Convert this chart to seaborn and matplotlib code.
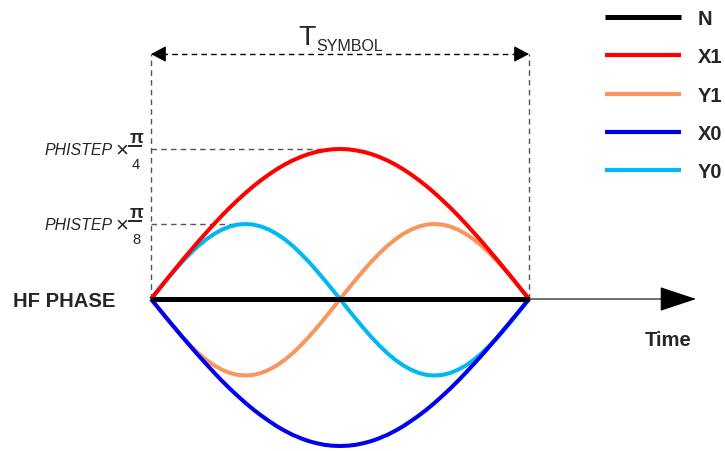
import numpy as np
import pandas as pd
import matplotlib
matplotlib.use("Agg")
import matplotlib.pyplot as plt
import seaborn as sns
from matplotlib.lines import Line2D

# Time across one symbol, and phase in units of PHISTEP x pi/4
t = np.linspace(0.0, 1.0, 49)
phase_n = [0.0] * 49
phase_x1 = [0, .065, .131, .195, .259, .321, .383, .442, .500, .556, .609, .659,
            .707, .752, .793, .831, .866, .897, .924, .947, .966, .981, .991, .998,
            1.000,
            .998, .991, .981, .966, .947, .924, .897, .866, .831, .793, .752, .707,
            .659, .609, .556, .500, .442, .383, .321, .259, .195, .131, .065, 0]
phase_x0 = [0, -.064, -.128, -.191, -.254, -.315, -.375, -.433, -.490, -.545, -.597, -.646,
            -.693, -.737, -.777, -.814, -.849, -.879, -.906, -.928, -.947, -.961, -.972, -.978,
            -.980,
            -.978, -.972, -.961, -.947, -.928, -.906, -.879, -.849, -.814, -.777, -.737, -.693,
            -.646, -.597, -.545, -.490, -.433, -.375, -.315, -.254, -.191, -.128, -.064, 0]
phase_y0 = [0, .065, .129, .191, .250, .304, .354, .397, .433, .462, .483, .496,
            .500, .496, .483, .462, .433, .397, .354, .304, .250, .191, .129, .065,
            0,
            -.067, -.132, -.195, -.255, -.310, -.361, -.405, -.442, -.471, -.493, -.506,
            -.510, -.506, -.493, -.471, -.442, -.405, -.361, -.310, -.255, -.195, -.132, -.067, 0]
phase_y1 = [0, -.067, -.132, -.195, -.255, -.310, -.361, -.405, -.442, -.471, -.493, -.506,
            -.510, -.506, -.493, -.471, -.442, -.405, -.361, -.310, -.255, -.195, -.132, -.067,
            0,
            .065, .129, .191, .250, .304, .354, .397, .433, .462, .483, .496,
            .500, .496, .483, .462, .433, .397, .354, .304, .250, .191, .129, .065, 0]

signals = ["N", "X1", "Y1", "X0", "Y0"]
colors = {"N": "#000000", "X1": "#FF0000", "Y1": "#F8965F",
          "X0": "#0000EE", "Y0": "#00B8F2"}

series = {"N": phase_n, "X1": phase_x1, "Y1": phase_y1, "X0": phase_x0, "Y0": phase_y0}
df = pd.concat([pd.DataFrame({"t": t, "phase": v, "signal": k}) for k, v in series.items()],
               ignore_index=True)

sns.set_theme(style="white")
plt.rcParams["font.family"] = ["Liberation Sans", "DejaVu Sans"]
plt.rcParams["lines.solid_capstyle"] = "butt"

fig = plt.figure(figsize=(7.25, 4.52), dpi=100)
ax = fig.add_axes([0, 0, 1, 1])

dash_kw = dict(color="#555555", lw=1.0, ls=(0, (4, 3)), zorder=1)

# symbol boundaries and phase reference levels
ax.plot([0, 0], [0, 1.633], **dash_kw)
ax.plot([1, 1], [0, 1.633], **dash_kw)
ax.plot([0, 0.5], [1.0, 1.0], **dash_kw)
ax.plot([0, 0.25], [0.5, 0.5], **dash_kw)

# symbol duration arrow
ax.plot([0.03, 0.97], [1.633, 1.633], color="black", lw=1.0, ls=(0, (4, 3)), zorder=1)
for x0, x1 in [(0.04, 0.0), (0.96, 1.0)]:
    ax.annotate("", xy=(x1, 1.633), xytext=(x0, 1.633),
                arrowprops=dict(arrowstyle="-|>,head_length=9.4,head_width=5",
                                mutation_scale=1, color="black", lw=0.8,
                                shrinkA=0, shrinkB=0))
ax.text(0.389, 1.70, "T", fontsize=20.5, ha="left", va="baseline")
ax.text(0.4365, 1.66, "SYMBOL", fontsize=11.5, ha="left", va="baseline")

# time axis
ax.annotate("", xy=(1.442, 0), xytext=(0, 0),
            arrowprops=dict(arrowstyle="-|>,head_length=23.8,head_width=7.9",
                            mutation_scale=1, color="black", lw=0.8,
                            shrinkA=0, shrinkB=0), zorder=2)

# phase trajectories
for name in ["Y1", "Y0", "X1", "X0", "N"]:
    sns.lineplot(data=df[df["signal"] == name], x="t", y="phase", color=colors[name],
                 lw=3.6 if name == "N" else 2.9, sort=False, ax=ax, legend=False,
                 zorder=5 if name == "N" else (4 if name.startswith("X") else 3))

ax.set_xlim(-0.3995, 1.5185)
ax.set_ylim(-1.0133, 2.0)
ax.axis("off")

# phase level labels: PHISTEP x pi/4 and PHISTEP x pi/8
for level, den in [(1.0, "4"), (0.5, "8")]:
    ax.text(-0.101, level - 0.033, "PHISTEP", fontsize=11.4, style="italic",
            ha="right", va="baseline")
    ax.text(-0.0767, level - 0.005, "×", fontsize=16, ha="center", va="center")
    ax.text(-0.0397, level + 0.05, "π", fontsize=13, fontweight="bold",
            ha="center", va="baseline")
    ax.hlines(level + 0.022, -0.0608, -0.0238, colors="black", lw=1.2, zorder=6)
    ax.text(-0.0397, level - 0.05, den, fontsize=10.5, ha="center", va="top")

ax.text(-0.365, -0.0467, "HF PHASE", fontsize=14.6, fontweight="bold",
        ha="left", va="baseline")
ax.text(1.307, -0.307, "Time", fontsize=14.6, fontweight="bold",
        ha="left", va="baseline")

handles = [Line2D([], [], color=colors[s], lw=3.6 if s == "N" else 3.0) for s in signals]
fs = 14.5
px = fs * 100 / 72
fig.legend(handles, signals, loc="upper left",
           bbox_to_anchor=(605 / 725, 1 - 10 / 452), bbox_transform=fig.transFigure,
           frameon=False, borderpad=0, borderaxespad=0,
           handlelength=76 / px, handletextpad=17 / px, labelspacing=0.96,
           prop={"family": "Liberation Sans", "weight": "bold", "size": fs})

fig.savefig("out.png", dpi=100)
